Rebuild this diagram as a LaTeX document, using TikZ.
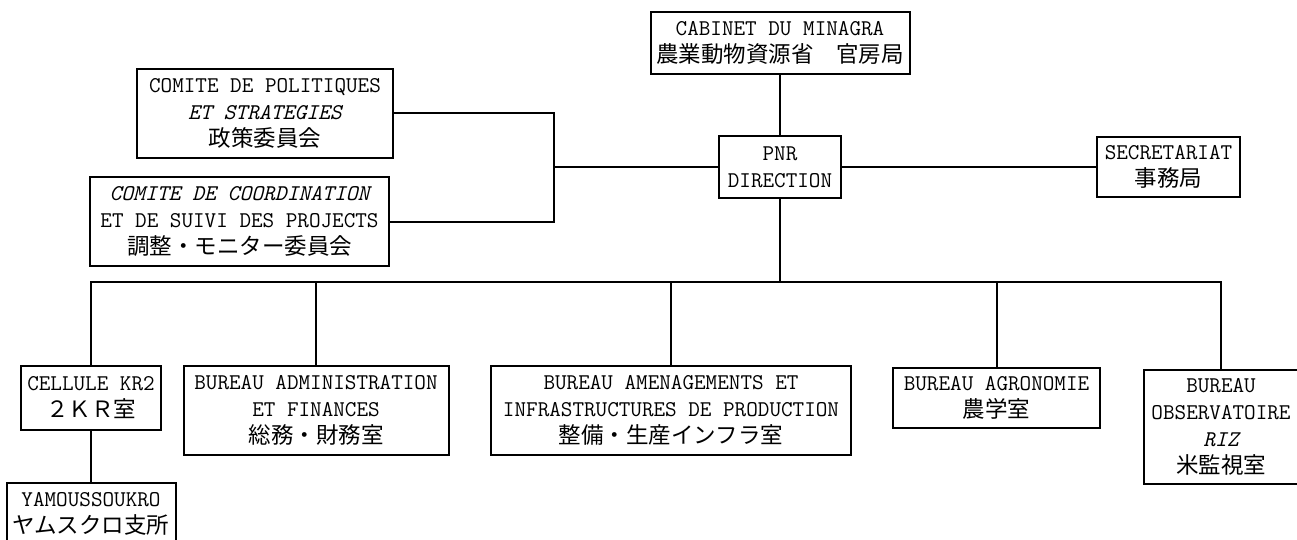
\documentclass[tikz,border=0pt]{standalone}
\usepackage{fontspec}
\newfontfamily\jp{Noto Sans CJK JP}
\usetikzlibrary{positioning}

\begin{document}
\begin{tikzpicture}[x=1pt, y=-1pt,
    box/.style={draw, line width=2pt, align=center, inner sep=0pt,
                font=\ttfamily\fontsize{22.5}{27}\selectfont},
    link/.style={line width=2pt}]
  \useasboundingbox (0,0) rectangle (1297,540);

  % Top level
  \node[box, minimum width=259, minimum height=62] (cab) at (780,43)
    {CABINET DU MINAGRA\\\jp 農業動物資源省　官房局};
  \node[box, minimum width=122, minimum height=62] (pnr) at (780,167)
    {PNR\\DIRECTION};
  \node[box, minimum width=143, minimum height=60] (sec) at (1168.5,167)
    {SECRETARIAT\\\jp 事務局};

  % Committees
  \node[box, minimum width=256, minimum height=89] (pol) at (265,113.5)
    {COMITE DE POLITIQUES\\{\itshape ET STRATEGIES}\\\jp 政策委員会};
  \node[box, minimum width=299, minimum height=89] (coord) at (239.5,221.5)
    {{\itshape COMITE DE COORDINATION}\\ET DE SUIVI DES PROJECTS\\\jp 調整・モニター委員会};

  % Bureaux
  \node[box, minimum width=140, minimum height=64] (kr2) at (91,398)
    {CELLULE KR2\\\jp ２ＫＲ室};
  \node[box, minimum width=169, minimum height=62] (yam) at (91,514)
    {YAMOUSSOUKRO\\\jp ヤムスクロ支所};
  \node[box, minimum width=265, minimum height=89] (adm) at (316,410.5)
    {BUREAU ADMINISTRATION\\ET FINANCES\\\jp 総務・財務室};
  \node[box, minimum width=360, minimum height=89] (ame) at (671,410.5)
    {BUREAU AMENAGEMENTS ET\\INFRASTRUCTURES DE PRODUCTION\\\jp 整備・生産インフラ室};
  \node[box, minimum width=207, minimum height=60] (agr) at (996.5,398)
    {BUREAU AGRONOMIE\\\jp 農学室};
  \node[box, minimum width=154, minimum height=114] (obs) at (1221,427)
    {BUREAU\\OBSERVATOIRE\\{\itshape RIZ}\\\jp 米監視室};

  % Connectors
  \coordinate (join) at (554,167);
  \coordinate (bus) at (780,282);
  \draw[link] (cab) -- (pnr);
  \draw[link] (pnr) -- (sec);
  \draw[link] (pol.east) -| (join);
  \draw[link] (coord.east) -| (join);
  \draw[link] (join) -- (pnr.west);
  \draw[link] (pnr) -- (bus);
  \foreach \b in {kr2, adm, ame, agr, obs}
    \draw[link] (bus) -| (\b.north);
  \draw[link] (kr2) -- (yam);
\end{tikzpicture}
\end{document}
